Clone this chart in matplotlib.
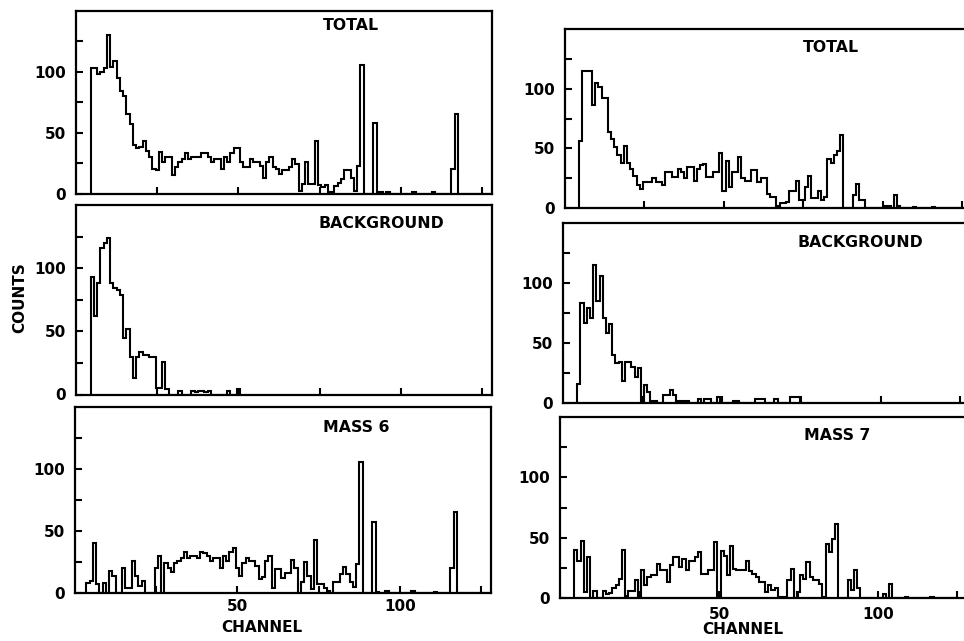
import numpy as np
import matplotlib
matplotlib.use("Agg")
import matplotlib.pyplot as plt

W, H = 964, 641

# ---------------- data (counts per channel) ----------------
left_total_start = 5
left_total = [103, 103, 98, 100, 103, 130, 104, 109, 95, 84, 80, 65, 57, 40, 37, 38, 43, 35, 30, 20,
              19, 34, 26, 30, 30, 15, 22, 26, 28, 33, 28, 30, 30, 30, 33, 33, 30, 26, 28, 28,
              20, 30, 26, 33, 37, 37, 26, 22, 22, 28, 26, 26, 23, 13, 26, 30, 22, 20, 16, 19,
              19, 22, 28, 24, 2, 8, 26, 8, 8, 43, 7, 5, 7, 1, 1, 6, 9, 12, 19, 19,
              13, 2, 23, 106, 0, 0, 0, 58, 1, 1, 0, 1, 0, 0, 0, 0, 0, 0, 0, 1,
              0, 0, 0, 0, 0, 1, 0, 0, 0, 0, 0, 20, 65, 0, 0, 0, 0, 0, 0, 0, 0, 0, 0]

left_bg_start = 5
left_bg = [93, 62, 88, 116, 120, 124, 88, 84, 83, 79, 45, 52, 30, 13, 30, 34, 31, 31, 30, 30,
           5, 5, 26, 4, 0, 0, 0, 3, 0, 0, 0, 3, 2, 3, 3, 2, 3, 0, 0, 0,
           0, 0, 3, 0, 0, 4]

left_mass6_start = 4
left_mass6 = [8, 10, 40, 7, 0, 8, 0, 18, 14, 0, 0, 20, 4, 4, 26, 14, 6, 10, 0, 0,
              0, 20, 30, 0, 24, 20, 17, 24, 26, 28, 33, 28, 30, 30, 28, 33, 32, 30, 26, 28,
              28, 20, 30, 26, 33, 36, 20, 14, 24, 28, 26, 26, 22, 11, 13, 26, 30, 4, 19, 19,
              12, 16, 16, 27, 20, 0, 9, 25, 14, 3, 43, 7, 7, 4, 2, 0, 9, 9, 15, 21,
              15, 9, 5, 23, 106, 0, 0, 0, 57, 1, 0, 0, 2, 0, 0, 0, 0, 0, 0, 0,
              2, 0, 0, 0, 0, 0, 0, 1, 0, 0, 0, 0, 20, 65, 0, 0, 0, 0, 0, 0, 0, 0, 0, 0]

right_total_start = 5
right_total = [56, 115, 115, 115, 86, 105, 101, 92, 92, 64, 58, 51, 44, 38, 52, 38, 33, 27, 19, 16,
               22, 22, 22, 25, 22, 22, 19, 30, 30, 26, 26, 33, 30, 25, 34, 34, 23, 33, 36, 37,
               26, 26, 30, 30, 46, 14, 39, 18, 30, 30, 43, 25, 23, 23, 32, 32, 22, 25, 25, 12,
               9, 9, 2, 4, 4, 5, 14, 14, 23, 7, 7, 18, 27, 8, 8, 14, 7, 9, 41, 38,
               44, 48, 61, 0, 0, 0, 11, 20, 7, 7, 0, 0, 0, 0, 0, 0, 2, 2, 0, 11,
               2, 0, 0, 0, 0, 1, 0, 0, 0, 0, 0, 1, 0, 0, 0, 0, 0, 0, 0, 0]

right_bg_start = 5
right_bg = [16, 83, 67, 79, 71, 115, 85, 106, 71, 58, 66, 40, 33, 34, 18, 34, 34, 30, 22, 29,
            1, 15, 9, 2, 2, 0, 0, 7, 7, 11, 7, 2, 2, 2, 2, 0, 0, 0, 3, 0,
            3, 3, 0, 0, 5, 0, 0, 0, 0, 2, 2, 0, 0, 0, 0, 0, 3, 3, 3, 0,
            0, 0, 3, 0, 0, 0, 0, 5, 5, 5]

right_mass7_start = 5
right_mass7 = [40, 31, 47, 5, 34, 0, 6, 0, 0, 6, 3, 4, 8, 11, 16, 40, 2, 6, 6, 15,
               1, 23, 11, 17, 19, 19, 28, 23, 23, 13, 27, 34, 34, 26, 32, 23, 31, 31, 34, 38,
               20, 20, 23, 23, 46, 0, 39, 35, 19, 43, 24, 23, 23, 23, 31, 22, 20, 17, 13, 13,
               5, 11, 7, 8, 1, 1, 1, 15, 24, 0, 5, 19, 16, 30, 17, 15, 15, 12, 1, 45,
               38, 49, 61, 0, 0, 0, 15, 7, 23, 8, 0, 0, 0, 0, 0, 0, 0, 3, 0, 12,
               0, 0, 0, 0, 1, 0, 0, 0, 0, 0, 0, 0, 1, 0, 0, 0, 0, 0, 0, 0]

channel_ticks = [25, 50, 75, 100, 125]
channel_labels = ["", "50", "", "100", ""]
count_ticks = [0, 25, 50, 75, 100, 125]
count_labels = ["0", "", "50", "", "100", ""]

panel_titles = ["TOTAL", "BACKGROUND", "MASS 6", "TOTAL", "BACKGROUND", "MASS 7"]

# ---------------- drawing ----------------
fig = plt.figure(figsize=(W / 100, H / 100), dpi=100)
fig.patch.set_facecolor("white")

FONT = "DejaVu Sans"


def px_axes(left, right, top, bottom):
    return fig.add_axes([left / W, 1 - bottom / H, (right - left) / W, (bottom - top) / H])


def draw_panel(rect, start, values, show_xlabels, xpad, ypad):
    ax = px_axes(*rect)
    vals = np.asarray(values, dtype=float)
    edges = np.arange(start - 0.5, start + len(vals) + 0.5, 1.0)
    ax.stairs(vals, edges, baseline=0, color="black", lw=1.5, joinstyle="miter")
    ax.set_xlim(0, 128)
    ax.set_ylim(0, 150)
    for s in ax.spines.values():
        s.set_linewidth(1.6)
        s.set_color("black")
    ax.set_yticks(count_ticks)
    ax.set_yticklabels(count_labels, fontsize=11, fontweight="bold", family=FONT)
    ax.set_xticks(channel_ticks)
    if show_xlabels:
        ax.set_xticklabels(channel_labels, fontsize=11, fontweight="bold", family=FONT)
    else:
        ax.set_xticklabels([""] * len(channel_ticks))
    ax.tick_params(axis="both", direction="in", length=5, width=1.5, color="black")
    ax.tick_params(axis="y", pad=ypad)
    ax.tick_params(axis="x", pad=xpad)
    return ax


# left column
draw_panel((76, 492, 11, 193.5), left_total_start, left_total, False, 4.5, 7)
draw_panel((76, 492, 205, 394.5), left_bg_start, left_bg, False, 4.5, 7)
draw_panel((75, 491, 407, 593), left_mass6_start, left_mass6, True, 4.5, 7)
# right column (extends past the right edge of the figure)
draw_panel((565, 972, 29, 208), right_total_start, right_total, False, 6.5, 7)
draw_panel((563, 970, 223, 403), right_bg_start, right_bg, False, 6.5, 7)
draw_panel((560, 967, 417, 598), right_mass7_start, right_mass7, True, 6.5, 7)


def ftext(x, y, s, **kw):
    fig.text(x / W, 1 - y / H, s, ha="center", va="center", family=FONT,
             fontweight="bold", **kw)


title_pos = [(351, 26), (381, 224), (356, 428), (831, 48), (860, 242), (837, 436)]
for (x, y), t in zip(title_pos, panel_titles):
    ftext(x, y, t, fontsize=11.3)

ftext(262, 628, "CHANNEL", fontsize=11)
ftext(743, 629, "CHANNEL", fontsize=11)
ftext(20, 298, "COUNTS", fontsize=11, rotation=90)

fig.savefig("out.png", dpi=100, facecolor="white")
